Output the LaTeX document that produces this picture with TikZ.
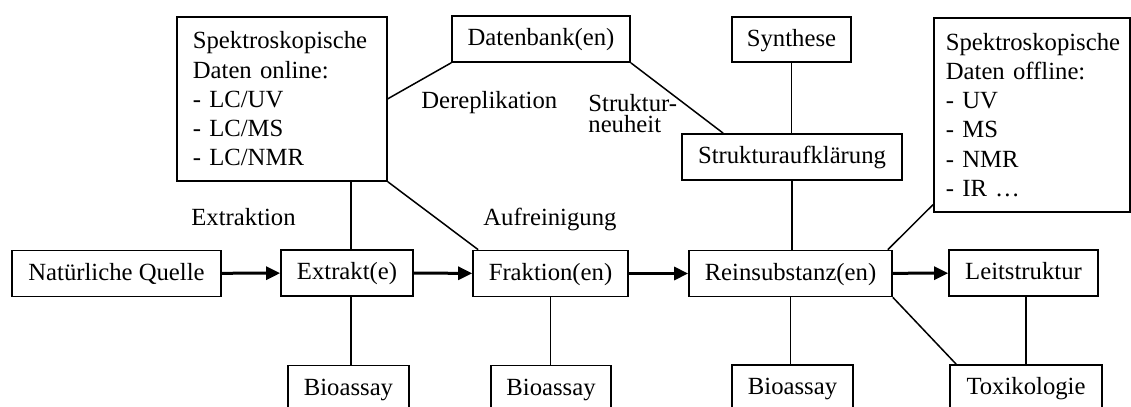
\documentclass[tikz,border=0pt]{standalone}
\usepackage{fontspec}
\setmainfont{Liberation Serif}
\usetikzlibrary{arrows.meta}

\begin{document}
\begin{tikzpicture}[x=0.5pt,y=-0.5pt,
  font={\fontsize{12.35pt}{14.6pt}\selectfont},
  box/.style={rectangle,draw,line width=0.85pt,minimum height=23pt,inner sep=0pt,
    text height=0.75em,text depth=0.09em},
  listbox/.style={rectangle,draw,line width=0.85pt,align=left,anchor=north west,
    inner xsep=8pt,inner ysep=0pt},
  stagetext/.style={anchor=base west,inner sep=0pt},
  link/.style={line width=0.75pt},
  flow/.style={line width=1.5pt,-{Triangle[length=7pt,width=6.5pt]}}]
  \useasboundingbox (0,0) rectangle (1131,407);
    % Main row
    \node[box,minimum width=104.5pt] (quelle) at (116.5,273.5) {Natürliche Quelle};
    \node[box,minimum width=66pt] (extrakt) at (347,273) {Extrakt(e)};
    \node[box,minimum width=77.5pt] (fraktion) at (550.5,273.5) {Fraktion(en)};
    \node[box,minimum width=101.5pt] (rein) at (790.5,273.5) {Reinsubstanz(en)};
    \node[box,minimum width=74.5pt] (leit) at (1023.5,273) {Leitstruktur};
    % Tests below
    \node[box,minimum width=60.5pt] (bioA) at (348.5,388.5) {Bioassay};
    \node[box,minimum width=60pt] (bioB) at (551,388.5) {Bioassay};
    \node[box,minimum width=60.5pt] (bioC) at (792.5,388) {Bioassay};
    \node[box,minimum width=76pt] (toxi) at (1026,388) {Toxikologie};
    % Boxes above
    \node[listbox,text width=89pt,minimum height=82pt] (online) at (176,16)
      {Spektroskopische\\Daten online:\\- LC/UV\\- LC/MS\\- LC/NMR};
    \node[box,minimum width=89pt] (daten) at (541,39) {Datenbank(en)};
    \node[box,minimum width=59.5pt,minimum height=22.5pt] (synth) at (791.5,39.5) {Synthese};
    \node[box,minimum width=110pt] (strukt) at (792,157) {Strukturaufklärung};
    \node[listbox,text width=86pt,inner xsep=6pt,minimum height=97pt] (offline) at (933,17)
      {Spektroskopische\\Daten offline:\\- UV\\- MS\\- NMR\\- IR …};
    % Step names
    \node[stagetext] (extraktion) at (191,225) {Extraktion};
    \node[stagetext] (aufreinigung) at (483,225) {Aufreinigung};
    \node[stagetext] (derep) at (421,108) {Dereplikation};
    \node[anchor=north west,inner sep=0pt,align=left,
      font={\fontsize{12.35pt}{10.5pt}\selectfont}] (neuheit) at (588,94) {Struktur-\\neuheit};
    % Flow
    \draw[flow] (quelle) -- (extrakt);
    \draw[flow] (extrakt) -- (fraktion);
    \draw[flow] (fraktion) -- (rein);
    \draw[flow] (rein) -- (leit);
    % Links
    \draw[link] ([xshift=2pt]extrakt.north) -- ([xshift=2pt]extrakt.north |- online.south);
    \draw[link] ([xshift=2pt]extrakt.south) -- ([xshift=2pt]extrakt.south |- bioA.north);
    \draw[link] (fraktion.south) -- (fraktion.south |- bioB.north);
    \draw[link] (online.south east) -- ([xshift=3pt]fraktion.north west);
    \draw[link] (online.east) -- (daten.south west);
    \draw[link] (daten.south east) -- ([xshift=21pt]strukt.north west);
    \draw[link] (synth.south) -- (synth.south |- strukt.north);
    \draw[link] (strukt.south) -- (strukt.south |- rein.north);
    \draw[link] (rein.south) -- (rein.south |- bioC.north);
    \draw[link] ([xshift=-2.5pt]rein.north east) -- ([yshift=4pt]offline.south west);
    \draw[link] (rein.south east) -- ([xshift=3.5pt]toxi.north west);
    \draw[link] (toxi.north) -- (toxi.north |- leit.south);
\end{tikzpicture}
\end{document}
